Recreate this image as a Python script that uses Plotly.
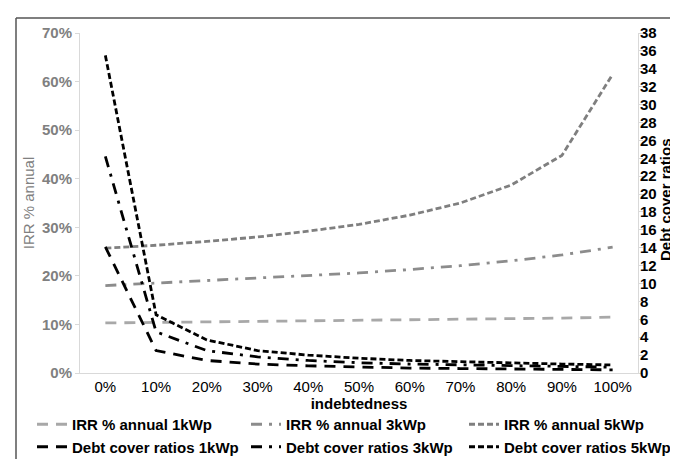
import plotly.graph_objects as go

categories = ["0%", "10%", "20%", "30%", "40%", "50%", "60%", "70%", "80%", "90%", "100%"]

irr_1kwp = [10.3, 10.4, 10.5, 10.6, 10.7, 10.8, 10.9, 11.0, 11.1, 11.3, 11.5]
irr_3kwp = [18.0, 18.5, 19.0, 19.5, 20.0, 20.6, 21.3, 22.1, 23.1, 24.3, 25.9]
irr_5kwp = [25.7, 26.3, 27.1, 28.0, 29.2, 30.6, 32.5, 35.0, 38.7, 44.8, 61.5]

dcr_1kwp = [14.1, 2.5, 1.4, 1.0, 0.8, 0.65, 0.55, 0.5, 0.45, 0.4, 0.35]
dcr_3kwp = [24.2, 4.6, 2.5, 1.8, 1.4, 1.15, 1.0, 0.9, 0.8, 0.7, 0.65]
dcr_5kwp = [35.5, 6.5, 3.7, 2.5, 2.0, 1.65, 1.4, 1.25, 1.1, 1.0, 0.9]

left_ticks = [0, 10, 20, 30, 40, 50, 60, 70]
right_ticks = list(range(0, 39, 2))

FONT = "Liberation Sans, Arial, sans-serif"
D_LONG = "11px,8px"
D_DOT = "11px,7px,3px,7px"
D_SHORT = "6px,3px"

# plot area in pixels
L, R, T, B = 72, 48, 25, 94
PW, PH = 678 - L - R, 459 - T - B

def px_x(x):
    return (x - L) / PW

def px_y(y):
    return (459 - B - y) / PH

fig = go.Figure()
series = [
    ("IRR % annual 1kWp", irr_1kwp, "#a8a8a8", D_LONG, "y", "legend"),
    ("IRR % annual 3kWp", irr_3kwp, "#8c8c8c", D_DOT, "y", "legend2"),
    ("IRR % annual 5kWp", irr_5kwp, "#7f7f7f", D_SHORT, "y", "legend3"),
    ("Debt cover ratios 1kWp", dcr_1kwp, "#000000", D_LONG, "y2", "legend"),
    ("Debt cover ratios 3kWp", dcr_3kwp, "#000000", D_DOT, "y2", "legend2"),
    ("Debt cover ratios 5kWp", dcr_5kwp, "#000000", D_SHORT, "y2", "legend3"),
]
for name, vals, color, dash, ax, lg in series:
    fig.add_trace(go.Scatter(
        x=categories, y=vals, name=f"<b>{name}</b>", mode="lines", yaxis=ax,
        legend=lg, line=dict(color=color, width=2.8, dash=dash),
    ))

legend_common = dict(
    orientation="v", xanchor="left", yanchor="top", y=px_y(400),
    font=dict(size=15, color="#000", family=FONT),
    itemwidth=30, tracegroupgap=0, bgcolor="rgba(0,0,0,0)",
)

fig.update_layout(
    width=678, height=459,
    margin=dict(l=L, r=R, t=T, b=B, autoexpand=False),
    paper_bgcolor="white", plot_bgcolor="white",
    font=dict(family=FONT, size=15, color="#000"),
    showlegend=True,
    xaxis=dict(
        type="category", range=[-0.5, 10.5], automargin=False,
        showline=True, linecolor="#d9d9d9", linewidth=1,
        ticks="", showgrid=False, zeroline=False,
        tickfont=dict(size=15, color="#000"),
        title=dict(text="<b>indebtedness</b>", font=dict(size=15, color="#000"), standoff=4),
    ),
    yaxis=dict(
        range=[0, 70], tickvals=left_ticks, automargin=False,
        ticktext=[f"<b>{v}%</b>" for v in left_ticks],
        showline=True, linecolor="#d9d9d9", linewidth=1,
        ticks="outside", ticklen=4, tickcolor="#d9d9d9",
        showgrid=False, zeroline=False,
        tickfont=dict(size=15, color="#808080"),
        title=dict(text="IRR % annual", font=dict(size=15, color="#808080"), standoff=3),
    ),
    yaxis2=dict(
        overlaying="y", side="right", automargin=False,
        range=[0, 38], tickvals=right_ticks,
        ticktext=[f"<b>{v}</b>" for v in right_ticks],
        showline=True, linecolor="#d9d9d9", linewidth=1,
        ticks="outside", ticklen=4, tickcolor="#d9d9d9",
        ticklabelstandoff=-6,
        showgrid=False, zeroline=False,
        tickfont=dict(size=15, color="#000"),
    ),
    legend=dict(legend_common, x=px_x(24)),
    legend2=dict(legend_common, x=px_x(238)),
    legend3=dict(legend_common, x=px_x(456)),
    annotations=[
        dict(text="<b>Debt cover ratios</b>", xref="paper", yref="paper",
             x=px_x(657), y=px_y(192), xanchor="center", yanchor="middle",
             textangle=-90, showarrow=False,
             font=dict(size=15, color="#000", family=FONT)),
    ],
    shapes=[
        dict(type="line", xref="paper", yref="paper",
             x0=px_x(8), x1=px_x(678), y0=px_y(10), y1=px_y(10),
             line=dict(color="#555", width=1.5)),
        dict(type="line", xref="paper", yref="paper",
             x0=px_x(8), x1=px_x(8), y0=px_y(10), y1=px_y(459),
             line=dict(color="#555", width=1.5)),
    ],
)

fig.write_html("out.html")
